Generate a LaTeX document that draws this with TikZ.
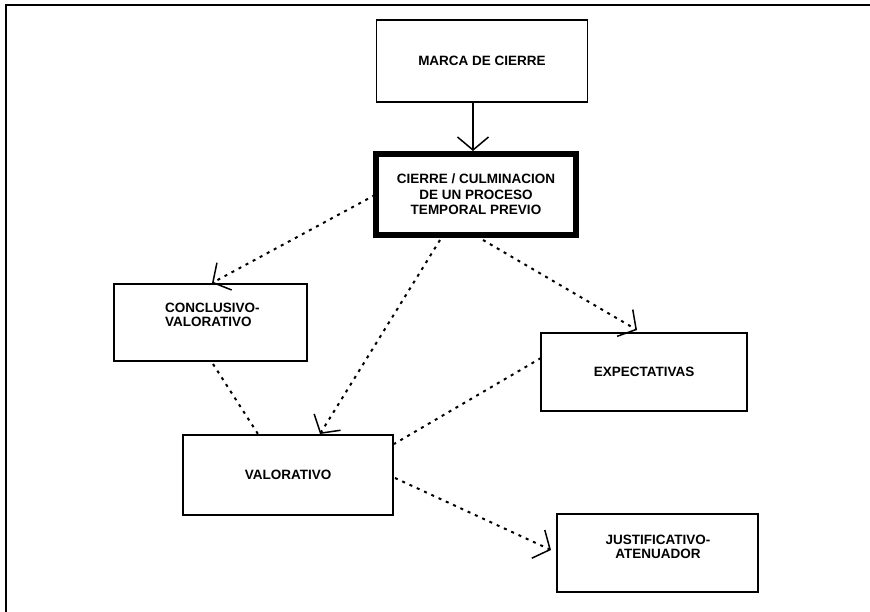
\documentclass[tikz,border=0pt]{standalone}
\usepackage{fontspec}
\setmainfont{Liberation Sans}
\usetikzlibrary{arrows.meta}
\begin{document}
\begin{tikzpicture}[x=1pt,y=-1pt,
  box/.style={draw=black,line width=1.7pt,rectangle,inner sep=0pt,
    font=\fontsize{13.5}{14}\selectfont\bfseries,align=center},
  thickbox/.style={box,line width=6pt,font=\fontsize{13.5}{15.5}\selectfont\bfseries},
  label/.style={font=\fontsize{13.5}{13.5}\selectfont\bfseries,inner sep=0pt},
  dots/.style={line width=2pt,dash pattern=on 3pt off 5pt},
  barb/.style={-{Straight Barb[length=13pt,width=31pt,line width=1.5pt]}}
]
\useasboundingbox (0,0) rectangle (870,612);
% page frame (top and left edges only)
\draw[line width=2.5pt] (870,5) -- (6,5) -- (6,612);

% boxes
\node[box,minimum width=211pt,minimum height=82pt] (marca) at (482,61) {MARCA DE CIERRE};
\node[thickbox,minimum width=200pt,minimum height=81pt] (cierre) at (476,194.5)
  {CIERRE / CULMINACION\\DE UN PROCESO\\TEMPORAL PREVIO};
\node[box,minimum width=193pt,minimum height=77pt] (concl) at (210.5,322.5) {};
\node[label,align=left,anchor=north west] (conclT) at (165,303) {CONCLUSIVO-\\VALORATIVO};
\node[box,minimum width=206pt,minimum height=78pt] (expect) at (644,372) {\raisebox{-3pt}{EXPECTATIVAS}};
\node[box,minimum width=210pt,minimum height=80pt] (valor) at (288,475) {VALORATIVO};
\node[box,minimum width=201pt,minimum height=78pt] (justif) at (657.5,553) {};
\node[label,align=center] (justifT) at (658,547) {JUSTIFICATIVO-\\ATENUADOR};

% connector end points on the box outlines
\coordinate (c1) at (375,195);
\coordinate (c2) at (440,240);
\coordinate (c3) at (483,240);
\coordinate (k1) at (212,283);
\coordinate (v1) at (320,434);
\coordinate (e1) at (637,330);
\coordinate (k2) at (213,364);
\coordinate (v2) at (258,434);
\coordinate (e2) at (541,358);
\coordinate (v3) at (394,444);
\coordinate (v4) at (395,478);
\coordinate (j1) at (551,550);

% connectors
\draw[line width=1.5pt,barb] (marca.south -| 473,0) -- (cierre.north -| 473,0);
\draw[dots,barb] (c1) -- (k1);
\draw[dots,barb] (c2) -- (v1);
\draw[dots,barb] (c3) -- (e1);
\draw[dots] (k2) -- (v2);
\draw[dots] (e2) -- (v3);
\draw[dots,barb] (v4) -- (j1);
\end{tikzpicture}
\end{document}
